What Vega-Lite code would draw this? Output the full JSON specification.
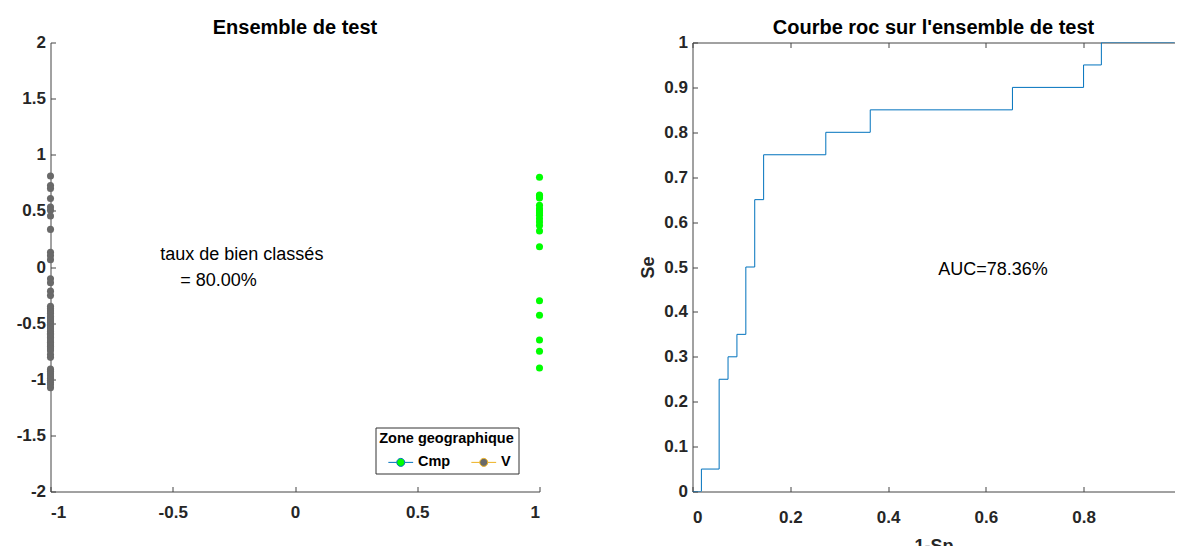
{
  "$schema": "https://vega.github.io/schema/vega-lite/v6.json",
  "autosize": {"type": "pad"},
  "padding": {"left": 15.5, "top": 17.5, "right": 0, "bottom": 0},
  "background": "white",
  "bounds": "flush",
  "spacing": 153,
  "config": {
    "view": {"stroke": null},
    "font": "Liberation Sans",
    "axis": {
      "labelFont": "Liberation Sans", "labelFontWeight": "bold", "labelFontSize": 17, "labelColor": "#262626",
      "domainColor": "#444444", "tickColor": "#444444", "grid": false, "tickSize": -5, "labelPadding": 10,
      "titleFont": "Liberation Sans", "titleFontWeight": "bold", "titleFontSize": 18, "titleColor": "#262626"
    },
    "title": {"font": "Liberation Sans", "fontSize": 20, "fontWeight": "bold", "color": "#000000", "offset": -4, "baseline": "alphabetic", "frame": "group"},
    "legend": {
      "titleFont": "Liberation Sans", "titleFontSize": 14.5, "titleFontWeight": "bold", "titleColor": "#000000",
      "labelFont": "Liberation Sans", "labelFontSize": 14.5, "labelFontWeight": "bold", "labelColor": "#000000"
    }
  },
  "hconcat": [
    {
      "width": 489,
      "height": 449,
      "title": {"text": "Ensemble de test"},
      "layer": [
        {
          "data": {"values": [
            {"zone": "Cmp", "x": 1, "y": 0.80}, {"zone": "Cmp", "x": 1, "y": 0.64}, {"zone": "Cmp", "x": 1, "y": 0.635},
            {"zone": "Cmp", "x": 1, "y": 0.625}, {"zone": "Cmp", "x": 1, "y": 0.615}, {"zone": "Cmp", "x": 1, "y": 0.55},
            {"zone": "Cmp", "x": 1, "y": 0.52}, {"zone": "Cmp", "x": 1, "y": 0.50}, {"zone": "Cmp", "x": 1, "y": 0.48},
            {"zone": "Cmp", "x": 1, "y": 0.46}, {"zone": "Cmp", "x": 1, "y": 0.43}, {"zone": "Cmp", "x": 1, "y": 0.40},
            {"zone": "Cmp", "x": 1, "y": 0.37}, {"zone": "Cmp", "x": 1, "y": 0.32}, {"zone": "Cmp", "x": 1, "y": 0.18},
            {"zone": "Cmp", "x": 1, "y": -0.30}, {"zone": "Cmp", "x": 1, "y": -0.43}, {"zone": "Cmp", "x": 1, "y": -0.65},
            {"zone": "Cmp", "x": 1, "y": -0.75}, {"zone": "Cmp", "x": 1, "y": -0.90},
            {"zone": "V", "x": -1, "y": 0.81}, {"zone": "V", "x": -1, "y": 0.725}, {"zone": "V", "x": -1, "y": 0.70},
            {"zone": "V", "x": -1, "y": 0.61}, {"zone": "V", "x": -1, "y": 0.535}, {"zone": "V", "x": -1, "y": 0.505},
            {"zone": "V", "x": -1, "y": 0.455}, {"zone": "V", "x": -1, "y": 0.335}, {"zone": "V", "x": -1, "y": 0.13},
            {"zone": "V", "x": -1, "y": 0.10}, {"zone": "V", "x": -1, "y": 0.065}, {"zone": "V", "x": -1, "y": -0.105},
            {"zone": "V", "x": -1, "y": -0.14}, {"zone": "V", "x": -1, "y": -0.215}, {"zone": "V", "x": -1, "y": -0.255},
            {"zone": "V", "x": -1, "y": -0.35}, {"zone": "V", "x": -1, "y": -0.37}, {"zone": "V", "x": -1, "y": -0.39},
            {"zone": "V", "x": -1, "y": -0.40}, {"zone": "V", "x": -1, "y": -0.415}, {"zone": "V", "x": -1, "y": -0.44},
            {"zone": "V", "x": -1, "y": -0.455}, {"zone": "V", "x": -1, "y": -0.47}, {"zone": "V", "x": -1, "y": -0.48},
            {"zone": "V", "x": -1, "y": -0.495}, {"zone": "V", "x": -1, "y": -0.51}, {"zone": "V", "x": -1, "y": -0.52},
            {"zone": "V", "x": -1, "y": -0.535}, {"zone": "V", "x": -1, "y": -0.55}, {"zone": "V", "x": -1, "y": -0.56},
            {"zone": "V", "x": -1, "y": -0.575}, {"zone": "V", "x": -1, "y": -0.59}, {"zone": "V", "x": -1, "y": -0.60},
            {"zone": "V", "x": -1, "y": -0.615}, {"zone": "V", "x": -1, "y": -0.625}, {"zone": "V", "x": -1, "y": -0.64},
            {"zone": "V", "x": -1, "y": -0.66}, {"zone": "V", "x": -1, "y": -0.67}, {"zone": "V", "x": -1, "y": -0.685},
            {"zone": "V", "x": -1, "y": -0.695}, {"zone": "V", "x": -1, "y": -0.705}, {"zone": "V", "x": -1, "y": -0.72},
            {"zone": "V", "x": -1, "y": -0.73}, {"zone": "V", "x": -1, "y": -0.745}, {"zone": "V", "x": -1, "y": -0.78},
            {"zone": "V", "x": -1, "y": -0.805}, {"zone": "V", "x": -1, "y": -0.91}, {"zone": "V", "x": -1, "y": -0.93},
            {"zone": "V", "x": -1, "y": -0.95}, {"zone": "V", "x": -1, "y": -0.97}, {"zone": "V", "x": -1, "y": -0.99},
            {"zone": "V", "x": -1, "y": -1.01}, {"zone": "V", "x": -1, "y": -1.03}, {"zone": "V", "x": -1, "y": -1.05},
            {"zone": "V", "x": -1, "y": -1.075}
          ]},
          "mark": {"type": "point", "filled": true, "size": 50, "opacity": 1},
          "encoding": {
            "x": {"field": "x", "type": "quantitative", "scale": {"domain": [-1, 1], "nice": false, "zero": false},
                  "axis": {"values": [-1, -0.5, 0, 0.5, 1], "title": null, "labelExpr": "toString(datum.value)", "labelPadding": 18}},
            "y": {"field": "y", "type": "quantitative", "scale": {"domain": [-2, 2], "nice": false},
                  "axis": {"values": [-2, -1.5, -1, -0.5, 0, 0.5, 1, 1.5, 2], "title": null, "labelExpr": "toString(datum.value)"}},
            "color": {"field": "zone", "type": "nominal",
                      "scale": {"domain": ["Cmp", "V"], "range": ["#00ff00", "#696969"]},
                      "legend": {
                        "title": "Zone geographique", "orient": "none", "legendX": 325, "legendY": 385,
                        "direction": "horizontal", "titleAnchor": "middle",
                        "symbolType": "M -3.1,0 L -1,0 M 1,0 L 3.1,0 M -1,0 A 1 1 0 1 1 1,0 A 1 1 0 1 1 -1,0 Z",
                        "symbolSize": 64, "symbolOffset": 12, "labelOffset": 10, "columnPadding": 14,
                        "symbolStrokeColor": "#0072BD", "symbolFillColor": "#00ff00", "symbolStrokeWidth": 1,
                        "padding": 4, "titlePadding": 9, "strokeColor": "#333333", "fillColor": "white"
                      }},
            "stroke": {"field": "zone", "type": "nominal",
                       "scale": {"domain": ["Cmp", "V"], "range": ["#0072BD", "#EDB120"]},
                       "legend": {
                        "title": "Zone geographique", "orient": "none", "legendX": 325, "legendY": 385,
                        "direction": "horizontal", "titleAnchor": "middle",
                        "symbolType": "M -3.1,0 L -1,0 M 1,0 L 3.1,0 M -1,0 A 1 1 0 1 1 1,0 A 1 1 0 1 1 -1,0 Z",
                        "symbolSize": 64, "symbolOffset": 12, "labelOffset": 10, "columnPadding": 14,
                        "symbolStrokeColor": "#0072BD", "symbolFillColor": "#00ff00", "symbolStrokeWidth": 1,
                        "padding": 4, "titlePadding": 9, "strokeColor": "#333333", "fillColor": "white"
                      }},
            "strokeOpacity": {"value": 0}
          }
        },
        {
          "data": {"values": [{"label": "taux de bien classés"}]},
          "mark": {"type": "text", "align": "left", "baseline": "alphabetic", "fontSize": 18, "font": "Liberation Sans", "color": "#000000"},
          "encoding": {
            "x": {"datum": -0.551, "type": "quantitative"},
            "y": {"datum": 0.0655, "type": "quantitative"},
            "text": {"field": "label"}
          }
        },
        {
          "data": {"values": [{"label": "= 80.00%"}]},
          "mark": {"type": "text", "align": "left", "baseline": "alphabetic", "fontSize": 18, "font": "Liberation Sans", "color": "#000000"},
          "encoding": {
            "x": {"datum": -0.4695, "type": "quantitative"},
            "y": {"datum": -0.166, "type": "quantitative"},
            "text": {"field": "label"}
          }
        }
      ]
    },
    {
      "width": 482,
      "height": 449,
      "title": {"text": "Courbe roc sur l'ensemble de test"},
      "layer": [
        {
          "data": {"values": [
            {"i": 0, "fpr": 0, "tpr": 0}, {"i": 1, "fpr": 0.0182, "tpr": 0}, {"i": 2, "fpr": 0.0182, "tpr": 0.05},
            {"i": 3, "fpr": 0.0545, "tpr": 0.05}, {"i": 4, "fpr": 0.0545, "tpr": 0.25}, {"i": 5, "fpr": 0.0727, "tpr": 0.25},
            {"i": 6, "fpr": 0.0727, "tpr": 0.30}, {"i": 7, "fpr": 0.0909, "tpr": 0.30}, {"i": 8, "fpr": 0.0909, "tpr": 0.35},
            {"i": 9, "fpr": 0.1091, "tpr": 0.35}, {"i": 10, "fpr": 0.1091, "tpr": 0.50}, {"i": 11, "fpr": 0.1273, "tpr": 0.50},
            {"i": 12, "fpr": 0.1273, "tpr": 0.65}, {"i": 13, "fpr": 0.1455, "tpr": 0.65}, {"i": 14, "fpr": 0.1455, "tpr": 0.75},
            {"i": 15, "fpr": 0.2727, "tpr": 0.75}, {"i": 16, "fpr": 0.2727, "tpr": 0.80}, {"i": 17, "fpr": 0.3636, "tpr": 0.80},
            {"i": 18, "fpr": 0.3636, "tpr": 0.85}, {"i": 19, "fpr": 0.6545, "tpr": 0.85}, {"i": 20, "fpr": 0.6545, "tpr": 0.90},
            {"i": 21, "fpr": 0.8, "tpr": 0.90}, {"i": 22, "fpr": 0.8, "tpr": 0.95}, {"i": 23, "fpr": 0.8364, "tpr": 0.95},
            {"i": 24, "fpr": 0.8364, "tpr": 1.0}, {"i": 25, "fpr": 1.0, "tpr": 1.0}
          ]},
          "mark": {"type": "line", "color": "#0072BD", "strokeWidth": 1, "clip": true},
          "encoding": {
            "x": {"field": "fpr", "type": "quantitative", "scale": {"domain": [0, 0.986], "nice": false, "zero": false},
                  "axis": {"values": [0, 0.2, 0.4, 0.6, 0.8], "title": "1-Sp", "labelExpr": "toString(datum.value)", "labelPadding": 22.5, "titlePadding": 12}},
            "y": {"field": "tpr", "type": "quantitative", "scale": {"domain": [0, 1], "nice": false},
                  "axis": {"values": [0, 0.1, 0.2, 0.3, 0.4, 0.5, 0.6, 0.7, 0.8, 0.9, 1], "title": "Se", "labelExpr": "toString(datum.value)", "titlePadding": 6.5}},
            "order": {"field": "i", "type": "quantitative"}
          }
        },
        {
          "data": {"values": [{"label": "AUC=78.36%"}]},
          "mark": {"type": "text", "align": "left", "baseline": "alphabetic", "fontSize": 18, "font": "Liberation Sans", "color": "#000000"},
          "encoding": {
            "x": {"datum": 0.5026, "type": "quantitative",
                  "axis": {"orient": "top", "labels": false, "title": null, "values": [0, 0.2, 0.4, 0.6, 0.8]}},
            "y": {"datum": 0.4827, "type": "quantitative"},
            "text": {"field": "label"}
          }
        }
      ],
      "resolve": {"axis": {"x": "independent"}}
    }
  ]
}
